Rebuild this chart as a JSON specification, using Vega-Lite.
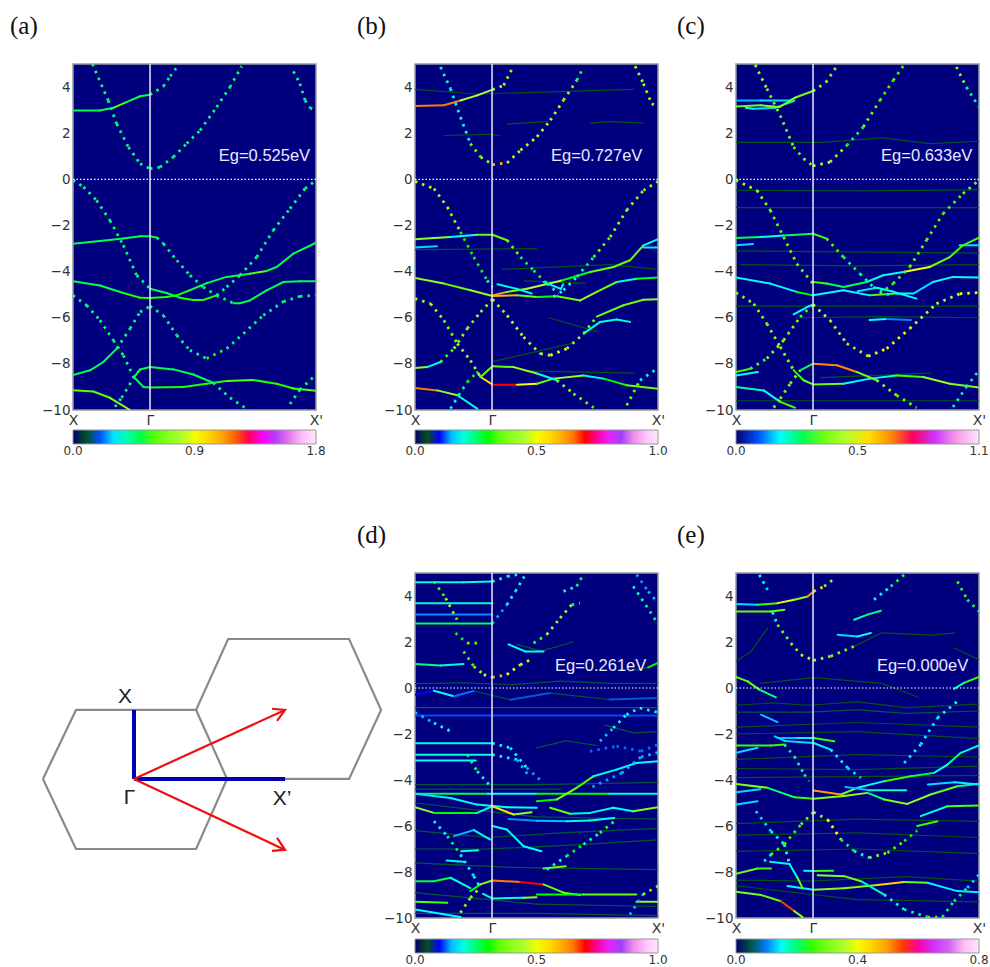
{"$schema":"https://vega.github.io/schema/vega-lite/v6.json","background":"white","padding":{"left":9,"top":13,"right":0,"bottom":0},"bounds":"flush","spacing":509,"resolve":{"scale":{"color":"independent"},"legend":{"color":"independent"}},
"config":{"view":{"fill":"#00007f","stroke":"#9a9a9a","strokeWidth":1.5},"title":{"font":"Liberation Serif","fontSize":25,"fontWeight":"normal","anchor":"start","color":"#111111","offset":24,"frame":"group"},
"axisX":{"domain":false,"ticks":false,"grid":false,"title":null,"labelFont":"DejaVu Sans","labelFontSize":14,"labelColor":"#333333","labelPadding":3,"labelFlush":false,"labelOverlap":false,"labelAngle":0,"labelExpr":"datum.value==0?'X':datum.value==1?\"X'\":'Γ'"},
"axisY":{"domain":false,"ticks":false,"grid":false,"title":null,"labelFont":"DejaVu Sans","labelFontSize":13.5,"labelColor":"#333333","labelPadding":3,"labelFlush":false,"labelOverlap":false,"tickCount":8},
"legend":{"orient":"none","legendX":0,"legendY":366,"direction":"horizontal","gradientLength":243,"gradientThickness":14,"gradientStrokeColor":"#999999","gradientStrokeWidth":1,"labelFont":"DejaVu Sans","labelFontSize":12,"labelColor":"#333333","labelOffset":3,"labelOverlap":false,"title":null,"format":".1f"}},
"datasets":{
"a":[
{"s":1,"c":0.5,"x":0,"y":2.98},{"s":1,"c":0.5,"x":0.111,"y":2.98},{"s":1,"c":0.6,"x":0.166,"y":3.1},{"s":1,"c":0.5,"x":0.22,"y":3.35},{"s":1,"c":0.5,"x":0.276,"y":3.6},{"s":1,"c":0.5,"x":0.317,"y":3.67},
{"s":2,"c":0.5,"x":0,"y":-2.79},{"s":2,"c":0.5,"x":0.111,"y":-2.67},{"s":2,"c":0.5,"x":0.207,"y":-2.56},{"s":2,"c":0.5,"x":0.276,"y":-2.47},{"s":2,"c":0.5,"x":0.317,"y":-2.47},{"s":2,"c":0.5,"x":0.345,"y":-2.52},
{"s":3,"c":0.5,"x":0.317,"y":-4.74},{"s":3,"c":0.5,"x":0.385,"y":-4.93},{"s":3,"c":0.55,"x":0.44,"y":-5.13},{"s":3,"c":0.55,"x":0.495,"y":-5.23},{"s":3,"c":0.55,"x":0.536,"y":-5.23},{"s":3,"c":0.5,"x":0.591,"y":-5.03},
{"s":4,"c":0.5,"x":0,"y":-4.42},{"s":4,"c":0.5,"x":0.111,"y":-4.6},{"s":4,"c":0.55,"x":0.207,"y":-4.93},{"s":4,"c":0.55,"x":0.276,"y":-5.13},{"s":4,"c":0.55,"x":0.317,"y":-5.14},{"s":4,"c":0.55,"x":0.385,"y":-5.1},{"s":4,"c":0.55,"x":0.427,"y":-5.03},{"s":4,"c":0.5,"x":0.481,"y":-4.81},{"s":4,"c":0.5,"x":0.55,"y":-4.5},{"s":4,"c":0.5,"x":0.632,"y":-4.23},{"s":4,"c":0.6,"x":0.728,"y":-4.09},{"s":4,"c":0.5,"x":0.797,"y":-3.97},{"s":4,"c":0.5,"x":0.838,"y":-3.8},{"s":4,"c":0.5,"x":0.907,"y":-3.22},{"s":4,"c":0.5,"x":1,"y":-2.75},
{"s":5,"c":0.5,"x":0.66,"y":-5.37},{"s":5,"c":0.5,"x":0.687,"y":-5.37},{"s":5,"c":0.5,"x":0.728,"y":-5.25},{"s":5,"c":0.5,"x":0.797,"y":-4.81},{"s":5,"c":0.5,"x":0.866,"y":-4.45},{"s":5,"c":0.5,"x":0.934,"y":-4.42},{"s":5,"c":0.5,"x":1,"y":-4.42},
{"s":6,"c":0.5,"x":0.25,"y":-8.57},{"s":6,"c":0.5,"x":0.29,"y":-9},{"s":6,"c":0.55,"x":0.317,"y":-9.02},{"s":6,"c":0.55,"x":0.454,"y":-9},{"s":6,"c":0.55,"x":0.55,"y":-8.86},{"s":6,"c":0.6,"x":0.632,"y":-8.74},{"s":6,"c":0.55,"x":0.742,"y":-8.7},{"s":6,"c":0.55,"x":0.838,"y":-8.86},{"s":6,"c":0.6,"x":0.907,"y":-9.07},{"s":6,"c":0.6,"x":1,"y":-9.17},
{"s":7,"c":0.5,"x":0,"y":-8.48},{"s":7,"c":0.5,"x":0.07,"y":-8.28},{"s":7,"c":0.5,"x":0.125,"y":-7.92},{"s":7,"c":0.5,"x":0.18,"y":-7.34},
{"s":8,"c":0.5,"x":0.25,"y":-8.6},{"s":8,"c":0.5,"x":0.276,"y":-8.24},{"s":8,"c":0.5,"x":0.317,"y":-8.14},{"s":8,"c":0.5,"x":0.413,"y":-8.24},{"s":8,"c":0.5,"x":0.495,"y":-8.46},{"s":8,"c":0.7,"x":0.577,"y":-8.82},
{"s":9,"c":0.6,"x":0,"y":-9.14},{"s":9,"c":0.6,"x":0.084,"y":-9.2},{"s":9,"c":0.7,"x":0.152,"y":-9.47},{"s":9,"c":0.6,"x":0.235,"y":-10}],
"ad":[
{"s":11,"c":0.45,"x":0.08,"y":5},{"s":11,"c":0.45,"x":0.145,"y":3.42},{"s":11,"c":0.45,"x":0.18,"y":2.4},{"s":11,"c":0.45,"x":0.228,"y":1.4},{"s":11,"c":0.45,"x":0.276,"y":0.68},{"s":11,"c":0.45,"x":0.317,"y":0.46},{"s":11,"c":0.45,"x":0.358,"y":0.53},{"s":11,"c":0.45,"x":0.413,"y":0.97},{"s":11,"c":0.45,"x":0.468,"y":1.55},{"s":11,"c":0.45,"x":0.523,"y":2.12},{"s":11,"c":0.45,"x":0.591,"y":3.13},{"s":11,"c":0.45,"x":0.646,"y":4},{"s":11,"c":0.45,"x":0.694,"y":4.9},
{"s":12,"c":0.45,"x":0.317,"y":3.67},{"s":12,"c":0.45,"x":0.372,"y":4.03},{"s":12,"c":0.45,"x":0.4,"y":4.47},{"s":12,"c":0.45,"x":0.424,"y":4.81},
{"s":13,"c":0.45,"x":0.907,"y":4.68},{"s":13,"c":0.45,"x":0.934,"y":4.15},{"s":13,"c":0.45,"x":0.955,"y":3.42},{"s":13,"c":0.45,"x":0.975,"y":3.1},{"s":13,"c":0.45,"x":1,"y":2.98},
{"s":14,"c":0.45,"x":0,"y":-0.04},{"s":14,"c":0.45,"x":0.043,"y":-0.33},{"s":14,"c":0.45,"x":0.097,"y":-0.91},{"s":14,"c":0.45,"x":0.152,"y":-1.78},{"s":14,"c":0.45,"x":0.207,"y":-2.86},{"s":14,"c":0.45,"x":0.262,"y":-4.16},{"s":14,"c":0.45,"x":0.317,"y":-4.74},
{"s":15,"c":0.45,"x":1,"y":-0.04},{"s":15,"c":0.45,"x":0.955,"y":-0.4},{"s":15,"c":0.45,"x":0.893,"y":-1.27},{"s":15,"c":0.45,"x":0.824,"y":-2.21},{"s":15,"c":0.45,"x":0.756,"y":-3.37},{"s":15,"c":0.45,"x":0.687,"y":-4.16},{"s":15,"c":0.45,"x":0.632,"y":-4.67},{"s":15,"c":0.45,"x":0.591,"y":-5.03},
{"s":16,"c":0.45,"x":0.345,"y":-2.52},{"s":16,"c":0.45,"x":0.372,"y":-2.79},{"s":16,"c":0.45,"x":0.427,"y":-3.51},{"s":16,"c":0.45,"x":0.481,"y":-4.16},{"s":16,"c":0.45,"x":0.536,"y":-4.67},{"s":16,"c":0.45,"x":0.591,"y":-5.03},{"s":16,"c":0.45,"x":0.66,"y":-5.37},
{"s":17,"c":0.45,"x":0,"y":-5.03},{"s":17,"c":0.45,"x":0.056,"y":-5.46},{"s":17,"c":0.45,"x":0.111,"y":-6.11},{"s":17,"c":0.45,"x":0.166,"y":-6.98},{"s":17,"c":0.45,"x":0.207,"y":-7.63},{"s":17,"c":0.45,"x":0.25,"y":-8.57},
{"s":18,"c":0.45,"x":0.18,"y":-7.34},{"s":18,"c":0.45,"x":0.235,"y":-6.47},{"s":18,"c":0.45,"x":0.276,"y":-5.75},{"s":18,"c":0.45,"x":0.317,"y":-5.5},{"s":18,"c":0.45,"x":0.372,"y":-5.9},{"s":18,"c":0.45,"x":0.427,"y":-6.76},{"s":18,"c":0.45,"x":0.481,"y":-7.41},{"s":18,"c":0.55,"x":0.55,"y":-7.77},{"s":18,"c":0.45,"x":0.632,"y":-7.34},{"s":18,"c":0.45,"x":0.701,"y":-6.69},{"s":18,"c":0.45,"x":0.783,"y":-5.9},{"s":18,"c":0.45,"x":0.866,"y":-5.3},{"s":18,"c":0.45,"x":0.934,"y":-5.07},{"s":18,"c":0.45,"x":1,"y":-5.03},
{"s":19,"c":0.45,"x":0.25,"y":-8.6},{"s":19,"c":0.45,"x":0.2,"y":-9.47},{"s":19,"c":0.45,"x":0.173,"y":-9.86},
{"s":20,"c":0.45,"x":0.577,"y":-8.82},{"s":20,"c":0.45,"x":0.646,"y":-9.47},{"s":20,"c":0.45,"x":0.722,"y":-10},
{"s":21,"c":0.45,"x":0.893,"y":-9.74},{"s":21,"c":0.45,"x":0.934,"y":-9.12},{"s":21,"c":0.45,"x":1,"y":-8.47}],
"b":[
{"s":1,"c":0.05,"x":0.721,"y":2.44},{"s":1,"c":0.05,"x":0.8,"y":2.5},{"s":1,"c":0.05,"x":0.94,"y":2.44},
{"s":2,"c":0.05,"x":0.12,"y":1.9},{"s":2,"c":0.05,"x":0.3,"y":1.95},{"s":2,"c":0.05,"x":0.35,"y":1.9},
{"s":3,"c":0.05,"x":0.38,"y":2.4},{"s":3,"c":0.05,"x":0.55,"y":2.5},
{"s":4,"c":0.05,"x":0,"y":-3.05},{"s":4,"c":0.05,"x":0.5,"y":-3},
{"s":5,"c":0.05,"x":0.36,"y":-3.9},{"s":5,"c":0.05,"x":0.8,"y":-3.7},{"s":5,"c":0.05,"x":1,"y":-3.9},
{"s":6,"c":0.05,"x":0.45,"y":-4.4},{"s":6,"c":0.05,"x":0.7,"y":-4.5},
{"s":7,"c":0.05,"x":0.55,"y":-6},{"s":7,"c":0.05,"x":0.75,"y":-6.6},
{"s":8,"c":0.05,"x":0.32,"y":-7.9},{"s":8,"c":0.05,"x":0.65,"y":-7.1},
{"s":9,"c":0.05,"x":0.45,"y":-8.3},{"s":9,"c":0.05,"x":0.9,"y":-8.4},
{"s":60,"c":0.05,"x":0,"y":3.9},{"s":60,"c":0.05,"x":0.25,"y":3.7},{"s":60,"c":0.05,"x":0.9,"y":3.9},
{"s":10,"c":0.16,"x":0,"y":-2.96},{"s":10,"c":0.16,"x":0.09,"y":-2.9},
{"s":11,"c":0.17,"x":0.94,"y":-2.96},{"s":11,"c":0.17,"x":1,"y":-2.96},
{"s":12,"c":0.65,"x":0,"y":3.18},{"s":12,"c":0.65,"x":0.119,"y":3.21},{"s":12,"c":0.45,"x":0.187,"y":3.42},{"s":12,"c":0.45,"x":0.256,"y":3.64},{"s":12,"c":0.45,"x":0.319,"y":3.89},
{"s":13,"c":0.4,"x":0,"y":-2.6},{"s":13,"c":0.18,"x":0.146,"y":-2.5},{"s":13,"c":0.35,"x":0.256,"y":-2.4},{"s":13,"c":0.35,"x":0.319,"y":-2.4},{"s":13,"c":0.35,"x":0.379,"y":-2.64},
{"s":14,"c":0.3,"x":0.6,"y":-4.4},{"s":14,"c":0.35,"x":0.721,"y":-4.02},{"s":14,"c":0.35,"x":0.817,"y":-3.8},{"s":14,"c":0.35,"x":0.885,"y":-3.51},{"s":14,"c":0.2,"x":0.94,"y":-2.86},{"s":14,"c":0.2,"x":1,"y":-2.59},
{"s":15,"c":0.4,"x":0,"y":-4.28},{"s":15,"c":0.35,"x":0.119,"y":-4.52},{"s":15,"c":0.4,"x":0.228,"y":-4.81},{"s":15,"c":0.6,"x":0.319,"y":-5.06},{"s":15,"c":0.35,"x":0.42,"y":-5.03},{"s":15,"c":0.3,"x":0.502,"y":-5.1},{"s":15,"c":0.35,"x":0.584,"y":-5.07},{"s":15,"c":0.4,"x":0.68,"y":-5.25},{"s":15,"c":0.35,"x":0.748,"y":-4.88},{"s":15,"c":0.2,"x":0.83,"y":-4.45},{"s":15,"c":0.3,"x":0.912,"y":-4.31},{"s":15,"c":0.4,"x":1,"y":-4.26},
{"s":16,"c":0.6,"x":0.319,"y":-5.03},{"s":16,"c":0.38,"x":0.379,"y":-4.88},{"s":16,"c":0.45,"x":0.461,"y":-4.74},{"s":16,"c":0.35,"x":0.6,"y":-4.4},
{"s":17,"c":0.2,"x":0.34,"y":-4.55},{"s":17,"c":0.2,"x":0.42,"y":-4.75},{"s":17,"c":0.2,"x":0.48,"y":-4.95},
{"s":18,"c":0.18,"x":0.53,"y":-4.45},{"s":18,"c":0.17,"x":0.61,"y":-4.55},{"s":18,"c":0.2,"x":0.6,"y":-4.75},
{"s":19,"c":0.55,"x":0.27,"y":-8.57},{"s":19,"c":0.7,"x":0.319,"y":-8.9},{"s":19,"c":0.5,"x":0.42,"y":-8.9},{"s":19,"c":0.35,"x":0.502,"y":-8.86},{"s":19,"c":0.42,"x":0.57,"y":-8.64},{"s":19,"c":0.2,"x":0.694,"y":-8.5},{"s":19,"c":0.3,"x":0.776,"y":-8.64},{"s":19,"c":0.35,"x":0.871,"y":-8.93},{"s":19,"c":0.65,"x":1,"y":-9.08},
{"s":20,"c":0.35,"x":0.27,"y":-8.57},{"s":20,"c":0.35,"x":0.256,"y":-8.35},{"s":20,"c":0.35,"x":0.319,"y":-8.1},{"s":20,"c":0.42,"x":0.406,"y":-8.14},{"s":20,"c":0.2,"x":0.502,"y":-8.42},{"s":20,"c":0.4,"x":0.584,"y":-8.71},
{"s":21,"c":0.65,"x":0,"y":-9.05},{"s":21,"c":0.4,"x":0.092,"y":-9.15},{"s":21,"c":0.2,"x":0.174,"y":-9.36},{"s":21,"c":0.3,"x":0.256,"y":-9.94},
{"s":22,"c":0.2,"x":0.694,"y":-6.69},{"s":22,"c":0.2,"x":0.762,"y":-6.18},{"s":22,"c":0.2,"x":0.83,"y":-6.08},{"s":22,"c":0.05,"x":0.885,"y":-6.18},
{"s":23,"c":0.4,"x":0,"y":-8.18},{"s":23,"c":0.2,"x":0.05,"y":-8.14},{"s":23,"c":0.32,"x":0.105,"y":-7.92},
{"s":24,"c":0.35,"x":0.748,"y":-5.95},{"s":24,"c":0.35,"x":0.858,"y":-5.46},{"s":24,"c":0.4,"x":0.94,"y":-5.22},{"s":24,"c":0.6,"x":1,"y":-5.2}],
"bd":[
{"s":30,"c":0.2,"x":0.105,"y":4.87},{"s":30,"c":0.2,"x":0.146,"y":3.93},{"s":30,"c":0.2,"x":0.187,"y":2.7},{"s":30,"c":0.35,"x":0.228,"y":1.55},{"s":30,"c":0.4,"x":0.27,"y":0.97},{"s":30,"c":0.6,"x":0.319,"y":0.64},{"s":30,"c":0.45,"x":0.379,"y":0.71},{"s":30,"c":0.45,"x":0.434,"y":1.26},{"s":30,"c":0.45,"x":0.502,"y":1.84},{"s":30,"c":0.45,"x":0.557,"y":2.56},{"s":30,"c":0.4,"x":0.611,"y":3.43},{"s":30,"c":0.25,"x":0.666,"y":4.29},{"s":30,"c":0.4,"x":0.694,"y":4.87},
{"s":31,"c":0.4,"x":0.319,"y":3.89},{"s":31,"c":0.4,"x":0.365,"y":4.07},{"s":31,"c":0.2,"x":0.406,"y":4.94},
{"s":32,"c":0.4,"x":0.906,"y":4.91},{"s":32,"c":0.4,"x":0.94,"y":4.15},{"s":32,"c":0.4,"x":0.974,"y":3.28},{"s":32,"c":0.4,"x":1,"y":3.14},
{"s":33,"c":0.45,"x":0,"y":-0.09},{"s":33,"c":0.4,"x":0.078,"y":-0.4},{"s":33,"c":0.4,"x":0.133,"y":-1.2},{"s":33,"c":0.3,"x":0.187,"y":-2.28},{"s":33,"c":0.3,"x":0.242,"y":-3.37},{"s":33,"c":0.2,"x":0.297,"y":-4.38},{"s":33,"c":0.2,"x":0.319,"y":-4.67},
{"s":34,"c":0.45,"x":1,"y":-0.09},{"s":34,"c":0.4,"x":0.94,"y":-0.48},{"s":34,"c":0.4,"x":0.871,"y":-1.34},{"s":34,"c":0.4,"x":0.803,"y":-2.5},{"s":34,"c":0.35,"x":0.735,"y":-3.37},{"s":34,"c":0.25,"x":0.666,"y":-4.23},{"s":34,"c":0.18,"x":0.611,"y":-4.81},{"s":34,"c":0.18,"x":0.57,"y":-5.1},
{"s":35,"c":0.35,"x":0.379,"y":-2.64},{"s":35,"c":0.28,"x":0.434,"y":-3.37},{"s":35,"c":0.28,"x":0.488,"y":-3.95},{"s":35,"c":0.22,"x":0.543,"y":-4.52},{"s":35,"c":0.2,"x":0.591,"y":-4.96},
{"s":36,"c":0.4,"x":0,"y":-5.17},{"s":36,"c":0.4,"x":0.064,"y":-5.39},{"s":36,"c":0.35,"x":0.119,"y":-6.11},{"s":36,"c":0.4,"x":0.174,"y":-7.12},{"s":36,"c":0.4,"x":0.228,"y":-7.85},{"s":36,"c":0.3,"x":0.27,"y":-8.57},
{"s":37,"c":0.32,"x":0.105,"y":-7.92},{"s":37,"c":0.4,"x":0.16,"y":-7.34},{"s":37,"c":0.4,"x":0.215,"y":-6.47},{"s":37,"c":0.4,"x":0.27,"y":-5.75},{"s":37,"c":0.4,"x":0.319,"y":-5.2},{"s":37,"c":0.45,"x":0.379,"y":-5.9},{"s":37,"c":0.42,"x":0.447,"y":-6.84},{"s":37,"c":0.45,"x":0.516,"y":-7.56},{"s":37,"c":0.5,"x":0.557,"y":-7.63},{"s":37,"c":0.4,"x":0.625,"y":-7.34},{"s":37,"c":0.35,"x":0.694,"y":-6.69},{"s":37,"c":0.35,"x":0.748,"y":-5.95},
{"s":38,"c":0.3,"x":0.256,"y":-8.35},{"s":38,"c":0.3,"x":0.215,"y":-8.79},{"s":38,"c":0.25,"x":0.18,"y":-9.36},{"s":38,"c":0.2,"x":0.146,"y":-9.94},
{"s":39,"c":0.4,"x":0.584,"y":-8.71},{"s":39,"c":0.35,"x":0.652,"y":-9.29},{"s":39,"c":0.25,"x":0.735,"y":-9.9},
{"s":40,"c":0.35,"x":0.871,"y":-9.8},{"s":40,"c":0.2,"x":0.926,"y":-8.71},{"s":40,"c":0.35,"x":1,"y":-8.18}],
"c":[
{"s":1,"c":0.06,"x":0,"y":-0.48},{"s":1,"c":0.06,"x":0.5,"y":-0.5},{"s":1,"c":0.06,"x":1,"y":-0.46},
{"s":2,"c":0.06,"x":0,"y":-1.23},{"s":2,"c":0.06,"x":0.5,"y":-1.23},{"s":2,"c":0.06,"x":1,"y":-1.23},
{"s":3,"c":0.06,"x":0,"y":1.6},{"s":3,"c":0.06,"x":0.35,"y":1.6},{"s":3,"c":0.06,"x":0.6,"y":1.8},{"s":3,"c":0.06,"x":0.8,"y":1.55},{"s":3,"c":0.06,"x":1,"y":1.65},
{"s":4,"c":0.06,"x":0.02,"y":-3.7},{"s":4,"c":0.06,"x":0.5,"y":-3.75},{"s":4,"c":0.06,"x":1,"y":-3.7},
{"s":5,"c":0.06,"x":0,"y":-5.5},{"s":5,"c":0.06,"x":1,"y":-5.5},
{"s":6,"c":0.06,"x":0.25,"y":-6},{"s":6,"c":0.06,"x":0.6,"y":-5.95},{"s":6,"c":0.06,"x":1,"y":-6},
{"s":7,"c":0.06,"x":0,"y":-3.1},{"s":7,"c":0.06,"x":1,"y":-3.2},
{"s":8,"c":0.06,"x":0,"y":-9.6},{"s":8,"c":0.06,"x":1,"y":-9.6},
{"s":9,"c":0.06,"x":0.35,"y":-8.6},{"s":9,"c":0.06,"x":0.8,"y":-8.4},
{"s":10,"c":0.16,"x":0,"y":3.42},{"s":10,"c":0.18,"x":0.1,"y":3.42},{"s":10,"c":0.35,"x":0.223,"y":3.42},{"s":10,"c":0.4,"x":0.25,"y":3.57},
{"s":11,"c":0.2,"x":0.04,"y":3.1},{"s":11,"c":0.18,"x":0.073,"y":3.06},{"s":11,"c":0.25,"x":0.16,"y":3.1},{"s":11,"c":0.25,"x":0.24,"y":3.4},
{"s":12,"c":0.4,"x":0,"y":3.16},{"s":12,"c":0.42,"x":0.1,"y":3.21},{"s":12,"c":0.4,"x":0.18,"y":3.14},{"s":12,"c":0.4,"x":0.25,"y":3.57},{"s":12,"c":0.45,"x":0.317,"y":3.83},
{"s":13,"c":0.18,"x":0,"y":-2.86},{"s":13,"c":0.18,"x":0.07,"y":-2.8},
{"s":14,"c":0.18,"x":0.92,"y":-2.86},{"s":14,"c":0.18,"x":1,"y":-2.86},
{"s":15,"c":0.3,"x":0,"y":-2.54},{"s":15,"c":0.2,"x":0.1,"y":-2.5},{"s":15,"c":0.3,"x":0.196,"y":-2.43},{"s":15,"c":0.35,"x":0.317,"y":-2.36},{"s":15,"c":0.35,"x":0.373,"y":-2.57},
{"s":16,"c":0.25,"x":1,"y":-2.53},{"s":16,"c":0.35,"x":0.934,"y":-2.86},{"s":16,"c":0.35,"x":0.88,"y":-3.37},{"s":16,"c":0.38,"x":0.797,"y":-3.8},{"s":16,"c":0.55,"x":0.688,"y":-4.02},{"s":16,"c":0.2,"x":0.606,"y":-4.16},{"s":16,"c":0.22,"x":0.538,"y":-4.45},{"s":16,"c":0.3,"x":0.442,"y":-4.67},{"s":16,"c":0.3,"x":0.373,"y":-4.52},{"s":16,"c":0.35,"x":0.317,"y":-4.45},
{"s":17,"c":0.2,"x":0,"y":-4.26},{"s":17,"c":0.2,"x":0.141,"y":-4.52},{"s":17,"c":0.33,"x":0.25,"y":-4.88},{"s":17,"c":0.2,"x":0.317,"y":-5.03},{"s":17,"c":0.2,"x":0.442,"y":-4.81},{"s":17,"c":0.35,"x":0.551,"y":-5.03},{"s":17,"c":0.2,"x":0.661,"y":-4.95},{"s":17,"c":0.18,"x":0.73,"y":-4.95},{"s":17,"c":0.2,"x":0.811,"y":-4.45},{"s":17,"c":0.2,"x":0.893,"y":-4.23},{"s":17,"c":0.3,"x":1,"y":-4.26},
{"s":18,"c":0.18,"x":0.5,"y":-4.85},{"s":18,"c":0.2,"x":0.58,"y":-4.7},{"s":18,"c":0.2,"x":0.64,"y":-4.85},{"s":18,"c":0.2,"x":0.743,"y":-5.17},
{"s":19,"c":0.2,"x":0.237,"y":-5.85},{"s":19,"c":0.2,"x":0.3,"y":-5.5},{"s":19,"c":0.4,"x":0.317,"y":-5.43},
{"s":20,"c":0.35,"x":0.237,"y":-8.27},{"s":20,"c":0.4,"x":0.278,"y":-8.71},{"s":20,"c":0.38,"x":0.317,"y":-8.89},{"s":20,"c":0.2,"x":0.442,"y":-8.86},{"s":20,"c":0.22,"x":0.551,"y":-8.64},{"s":20,"c":0.35,"x":0.661,"y":-8.5},{"s":20,"c":0.45,"x":0.77,"y":-8.57},{"s":20,"c":0.42,"x":0.88,"y":-8.86},{"s":20,"c":0.42,"x":1,"y":-9.03},
{"s":21,"c":0.2,"x":0.55,"y":-6.1},{"s":21,"c":0.14,"x":0.62,"y":-6.05},{"s":21,"c":0.08,"x":0.72,"y":-6.1},
{"s":22,"c":0.3,"x":0.264,"y":-8.28},{"s":22,"c":0.7,"x":0.317,"y":-7.99},{"s":22,"c":0.7,"x":0.415,"y":-8.06},{"s":22,"c":0.4,"x":0.497,"y":-8.35},{"s":22,"c":0.42,"x":0.579,"y":-8.71},
{"s":23,"c":0.25,"x":0,"y":-9},{"s":23,"c":0.2,"x":0.114,"y":-9.15},{"s":23,"c":0.35,"x":0.182,"y":-9.65},{"s":23,"c":0.35,"x":0.243,"y":-9.9},
{"s":24,"c":0.2,"x":0,"y":-8.5},{"s":24,"c":0.17,"x":0.09,"y":-8.35},
{"s":25,"c":0.35,"x":0,"y":-8.35},{"s":25,"c":0.35,"x":0.059,"y":-8.21}],
"cd":[
{"s":30,"c":0.45,"x":0.079,"y":4.96},{"s":30,"c":0.4,"x":0.127,"y":3.93},{"s":30,"c":0.4,"x":0.182,"y":2.77},{"s":30,"c":0.35,"x":0.237,"y":1.4},{"s":30,"c":0.4,"x":0.278,"y":0.9},{"s":30,"c":0.5,"x":0.317,"y":0.58},{"s":30,"c":0.45,"x":0.387,"y":0.75},{"s":30,"c":0.3,"x":0.456,"y":1.47},{"s":30,"c":0.4,"x":0.524,"y":2.27},{"s":30,"c":0.35,"x":0.592,"y":3.42},{"s":30,"c":0.35,"x":0.647,"y":4.29},{"s":30,"c":0.42,"x":0.688,"y":4.91},
{"s":31,"c":0.42,"x":0.317,"y":3.83},{"s":31,"c":0.42,"x":0.37,"y":4.2},{"s":31,"c":0.42,"x":0.415,"y":4.91},
{"s":32,"c":0.4,"x":0.907,"y":4.87},{"s":32,"c":0.25,"x":0.948,"y":4},{"s":32,"c":0.4,"x":1,"y":3.14},
{"s":33,"c":0.45,"x":0,"y":-0.04},{"s":33,"c":0.42,"x":0.086,"y":-0.48},{"s":33,"c":0.38,"x":0.141,"y":-1.34},{"s":33,"c":0.38,"x":0.196,"y":-2.5},{"s":33,"c":0.38,"x":0.25,"y":-3.66},{"s":33,"c":0.38,"x":0.317,"y":-4.52},
{"s":34,"c":0.42,"x":1,"y":-0.04},{"s":34,"c":0.38,"x":0.934,"y":-0.62},{"s":34,"c":0.35,"x":0.852,"y":-1.49},{"s":34,"c":0.38,"x":0.784,"y":-2.64},{"s":34,"c":0.38,"x":0.715,"y":-3.8},{"s":34,"c":0.35,"x":0.647,"y":-4.52},{"s":34,"c":0.35,"x":0.592,"y":-4.96},
{"s":35,"c":0.35,"x":0.373,"y":-2.57},{"s":35,"c":0.3,"x":0.442,"y":-3.37},{"s":35,"c":0.25,"x":0.51,"y":-4.09},{"s":35,"c":0.25,"x":0.565,"y":-4.67},{"s":35,"c":0.3,"x":0.633,"y":-5.03},
{"s":36,"c":0.42,"x":0,"y":-4.91},{"s":36,"c":0.42,"x":0.073,"y":-5.39},{"s":36,"c":0.42,"x":0.127,"y":-6.26},{"s":36,"c":0.42,"x":0.182,"y":-7.26},{"s":36,"c":0.42,"x":0.237,"y":-8.27},
{"s":37,"c":0.35,"x":0.059,"y":-8.21},{"s":37,"c":0.42,"x":0.127,"y":-7.77},{"s":37,"c":0.42,"x":0.196,"y":-6.98},{"s":37,"c":0.35,"x":0.264,"y":-5.97},{"s":37,"c":0.5,"x":0.317,"y":-5.43},{"s":37,"c":0.45,"x":0.387,"y":-6.11},{"s":37,"c":0.45,"x":0.456,"y":-7.12},{"s":37,"c":0.55,"x":0.544,"y":-7.67},{"s":37,"c":0.55,"x":0.62,"y":-7.34},{"s":37,"c":0.5,"x":0.715,"y":-6.47},{"s":37,"c":0.5,"x":0.825,"y":-5.39},{"s":37,"c":0.55,"x":0.921,"y":-4.96},{"s":37,"c":0.55,"x":1,"y":-4.91},
{"s":38,"c":0.3,"x":0.264,"y":-8.28},{"s":38,"c":0.42,"x":0.223,"y":-8.86},{"s":38,"c":0.4,"x":0.182,"y":-9.51},{"s":38,"c":0.4,"x":0.155,"y":-9.9},
{"s":39,"c":0.42,"x":0.579,"y":-8.71},{"s":39,"c":0.38,"x":0.661,"y":-9.36},{"s":39,"c":0.38,"x":0.743,"y":-9.9},
{"s":40,"c":0.25,"x":0.893,"y":-9.87},{"s":40,"c":0.25,"x":0.948,"y":-9},{"s":40,"c":0.2,"x":1,"y":-8.28}],
"d":[
{"s":1,"c":0.06,"x":0,"y":0.19},{"s":1,"c":0.06,"x":0.2,"y":0.22},{"s":1,"c":0.06,"x":0.4,"y":0.15},{"s":1,"c":0.06,"x":0.6,"y":0.3},{"s":1,"c":0.06,"x":0.8,"y":0.2},{"s":1,"c":0.06,"x":1,"y":0.2},
{"s":2,"c":0.07,"x":0,"y":-0.85},{"s":2,"c":0.07,"x":1,"y":-0.85},
{"s":3,"c":0.11,"x":0,"y":-1.2},{"s":3,"c":0.11,"x":1,"y":-1.2},
{"s":4,"c":0.06,"x":0,"y":-4.2},{"s":4,"c":0.06,"x":0.5,"y":-4.2},{"s":4,"c":0.06,"x":1,"y":-4.1},
{"s":5,"c":0.06,"x":0,"y":-4.4},{"s":5,"c":0.06,"x":0.6,"y":-4.4},
{"s":6,"c":0.06,"x":0,"y":-5},{"s":6,"c":0.06,"x":0.5,"y":-5.6},{"s":6,"c":0.06,"x":1,"y":-5.7},
{"s":7,"c":0.06,"x":0,"y":-6.2},{"s":7,"c":0.06,"x":0.3,"y":-6.5},{"s":7,"c":0.06,"x":0.6,"y":-6.3},{"s":7,"c":0.06,"x":1,"y":-6.1},
{"s":8,"c":0.06,"x":0,"y":-7},{"s":8,"c":0.06,"x":0.3,"y":-7},{"s":8,"c":0.06,"x":0.7,"y":-6.8},{"s":8,"c":0.06,"x":1,"y":-6.6},
{"s":9,"c":0.06,"x":0,"y":-7.6},{"s":9,"c":0.06,"x":0.4,"y":-7.8},{"s":9,"c":0.06,"x":1,"y":-7.9},
{"s":10,"c":0.06,"x":0,"y":-8.9},{"s":10,"c":0.06,"x":0.5,"y":-9.4},{"s":10,"c":0.06,"x":1,"y":-9.5},
{"s":11,"c":0.06,"x":0,"y":-9.8},{"s":11,"c":0.06,"x":0.5,"y":-9.8},{"s":11,"c":0.06,"x":1,"y":-9.9},
{"s":12,"c":0.06,"x":0.5,"y":-2.6},{"s":12,"c":0.06,"x":0.62,"y":-2.3},{"s":12,"c":0.06,"x":0.75,"y":-2.5},
{"s":13,"c":0.06,"x":0.42,"y":1.9},{"s":13,"c":0.06,"x":0.52,"y":1.6},{"s":13,"c":0.06,"x":0.65,"y":2.0},
{"s":14,"c":0.06,"x":0.78,"y":-1.6},{"s":14,"c":0.06,"x":0.9,"y":-1.95},{"s":14,"c":0.06,"x":1,"y":-1.9},
{"s":15,"c":0.1,"x":0,"y":-0.29},{"s":15,"c":0.18,"x":0.078,"y":-0.12},{"s":15,"c":0.12,"x":0.16,"y":-0.36},{"s":15,"c":0.06,"x":0.242,"y":-0.13},{"s":15,"c":0.08,"x":0.392,"y":-0.51},{"s":15,"c":0.06,"x":0.556,"y":-0.22},{"s":15,"c":0.08,"x":0.8,"y":-0.5},{"s":15,"c":0.13,"x":1,"y":-0.43},
{"s":16,"c":0.2,"x":0,"y":4.6},{"s":16,"c":0.2,"x":0.2,"y":4.6},{"s":16,"c":0.22,"x":0.318,"y":4.63},
{"s":17,"c":0.21,"x":0,"y":3.68},{"s":17,"c":0.21,"x":0.318,"y":3.68},
{"s":18,"c":0.13,"x":0,"y":3.2},{"s":18,"c":0.13,"x":0.318,"y":3.2},
{"s":19,"c":0.27,"x":0,"y":2.8},{"s":19,"c":0.27,"x":0.318,"y":2.8},
{"s":20,"c":0.24,"x":0,"y":1.04},{"s":20,"c":0.2,"x":0.105,"y":0.98},{"s":20,"c":0.06,"x":0.2,"y":1.04},
{"s":21,"c":0.06,"x":0.88,"y":0.72},{"s":21,"c":0.3,"x":0.96,"y":0.9},{"s":21,"c":0.3,"x":1,"y":1.09},
{"s":22,"c":0.18,"x":0.385,"y":1.9},{"s":22,"c":0.2,"x":0.453,"y":1.59},{"s":22,"c":0.3,"x":0.529,"y":1.59},
{"s":23,"c":0.2,"x":0,"y":-2.4},{"s":23,"c":0.2,"x":0.318,"y":-2.4},
{"s":24,"c":0.2,"x":0,"y":-2.9},{"s":24,"c":0.21,"x":0.318,"y":-2.9},
{"s":25,"c":0.18,"x":0,"y":-3.15},{"s":25,"c":0.18,"x":0.25,"y":-3.15},
{"s":26,"c":0.28,"x":0,"y":-4.6},{"s":26,"c":0.18,"x":0.3,"y":-4.6},{"s":26,"c":0.3,"x":0.5,"y":-4.6},{"s":26,"c":0.2,"x":0.8,"y":-4.6},{"s":26,"c":0.18,"x":1,"y":-4.6},
{"s":27,"c":0.17,"x":0,"y":-4.6},{"s":27,"c":0.18,"x":0.146,"y":-4.78},{"s":27,"c":0.2,"x":0.256,"y":-5.07},{"s":27,"c":0.18,"x":0.378,"y":-5.18},{"s":27,"c":0.14,"x":0.501,"y":-5.21},
{"s":28,"c":0.4,"x":0,"y":-5.18},{"s":28,"c":0.3,"x":0.078,"y":-5.43},{"s":28,"c":0.2,"x":0.256,"y":-5.43},{"s":28,"c":0.55,"x":0.318,"y":-5.14},{"s":28,"c":0.4,"x":0.406,"y":-5.5},{"s":28,"c":0.14,"x":0.48,"y":-5.4},
{"s":29,"c":0.3,"x":0.501,"y":-4.92},{"s":29,"c":0.38,"x":0.583,"y":-4.85},{"s":29,"c":0.32,"x":0.665,"y":-4.34},{"s":29,"c":0.2,"x":0.734,"y":-3.84},{"s":29,"c":0.18,"x":0.829,"y":-3.55},{"s":29,"c":0.18,"x":0.911,"y":-3.26},{"s":29,"c":0.18,"x":1,"y":-3.19},
{"s":30,"c":0.35,"x":0.556,"y":-5.21},{"s":30,"c":0.22,"x":0.638,"y":-5.47},{"s":30,"c":0.2,"x":0.72,"y":-5.43},{"s":30,"c":0.18,"x":0.816,"y":-5.21},{"s":30,"c":0.38,"x":0.898,"y":-5.36},{"s":30,"c":0.42,"x":1,"y":-5.18},
{"s":31,"c":0.18,"x":0.318,"y":-6},{"s":31,"c":0.2,"x":0.378,"y":-6.15},{"s":31,"c":0.18,"x":0.447,"y":-6.88},{"s":31,"c":0.38,"x":0.52,"y":-7.1},
{"s":32,"c":0.13,"x":0.385,"y":-5.7},{"s":32,"c":0.15,"x":0.5,"y":-5.77},{"s":32,"c":0.2,"x":0.624,"y":-5.79},{"s":32,"c":0.18,"x":0.72,"y":-5.76},{"s":32,"c":0.13,"x":0.82,"y":-5.65},
{"s":33,"c":0.15,"x":0.16,"y":-6.44},{"s":33,"c":0.2,"x":0.242,"y":-6.18},{"s":33,"c":0.13,"x":0.31,"y":-6.59},
{"s":34,"c":0.2,"x":0.19,"y":-7.1},{"s":34,"c":0.16,"x":0.26,"y":-7.05},
{"s":35,"c":0.35,"x":0.529,"y":-7.85},{"s":35,"c":0.6,"x":0.62,"y":-7.75},
{"s":36,"c":0.3,"x":0.228,"y":-8.83},{"s":36,"c":0.38,"x":0.269,"y":-8.54},{"s":36,"c":0.65,"x":0.318,"y":-8.37},{"s":36,"c":0.7,"x":0.433,"y":-8.43},{"s":36,"c":0.35,"x":0.529,"y":-8.54},{"s":36,"c":0.38,"x":0.611,"y":-8.9},{"s":36,"c":0.2,"x":0.68,"y":-9},
{"s":37,"c":0.2,"x":0.28,"y":-8.95},{"s":37,"c":0.2,"x":0.318,"y":-9.15},{"s":37,"c":0.4,"x":0.447,"y":-9.12},{"s":37,"c":0.2,"x":0.5,"y":-9.1},
{"s":38,"c":0.33,"x":0,"y":-9.29},{"s":38,"c":0.2,"x":0.133,"y":-9.34},
{"s":39,"c":0.28,"x":0,"y":-8.4},{"s":39,"c":0.28,"x":0.078,"y":-8.4},{"s":39,"c":0.2,"x":0.146,"y":-8.25},{"s":39,"c":0.2,"x":0.228,"y":-8.7},
{"s":40,"c":0.3,"x":0.501,"y":-8.98},{"s":40,"c":0.35,"x":0.693,"y":-8.98},{"s":40,"c":0.25,"x":0.911,"y":-8.98},
{"s":41,"c":0.4,"x":0.911,"y":-9.29},{"s":41,"c":0.42,"x":1,"y":-9.29},
{"s":42,"c":0.18,"x":0,"y":-9.63},{"s":42,"c":0.18,"x":0.187,"y":-9.96},
{"s":43,"c":0.2,"x":0.13,"y":-7.5},{"s":43,"c":0.18,"x":0.2,"y":-7.55}],
"dd":[
{"s":50,"c":0.32,"x":0.078,"y":4.63},{"s":50,"c":0.38,"x":0.126,"y":3.91},{"s":50,"c":0.32,"x":0.173,"y":2.97},
{"s":51,"c":0.3,"x":0.167,"y":2.39},{"s":51,"c":0.35,"x":0.214,"y":1.95},{"s":51,"c":0.2,"x":0.26,"y":1.95},
{"s":52,"c":0.32,"x":0.2,"y":1.59},{"s":52,"c":0.4,"x":0.242,"y":0.94},{"s":52,"c":0.45,"x":0.283,"y":0.58},{"s":52,"c":0.6,"x":0.318,"y":0.46},{"s":52,"c":0.5,"x":0.378,"y":0.58},{"s":52,"c":0.45,"x":0.433,"y":1.01},{"s":52,"c":0.3,"x":0.488,"y":1.3},
{"s":53,"c":0.32,"x":0.488,"y":1.95},{"s":53,"c":0.4,"x":0.542,"y":2.32},{"s":53,"c":0.42,"x":0.597,"y":3.04},{"s":53,"c":0.25,"x":0.645,"y":3.62},{"s":53,"c":0.18,"x":0.679,"y":3.69},
{"s":54,"c":0.2,"x":0.611,"y":4.2},{"s":54,"c":0.25,"x":0.665,"y":4.42},{"s":54,"c":0.4,"x":0.686,"y":4.81},
{"s":55,"c":0.14,"x":0.318,"y":2.8},{"s":55,"c":0.18,"x":0.378,"y":3.62},{"s":55,"c":0.2,"x":0.413,"y":4.2},{"s":55,"c":0.18,"x":0.45,"y":4.85},
{"s":56,"c":0.2,"x":0.318,"y":4.63},{"s":56,"c":0.2,"x":0.38,"y":4.85},{"s":56,"c":0.2,"x":0.42,"y":4.93},
{"s":57,"c":0.22,"x":0.898,"y":4.42},{"s":57,"c":0.25,"x":0.95,"y":3.6},{"s":57,"c":0.25,"x":0.993,"y":2.9},
{"s":58,"c":0.14,"x":0.912,"y":4.93},{"s":58,"c":0.15,"x":0.96,"y":4.2},{"s":58,"c":0.15,"x":1,"y":3.7},
{"s":59,"c":0.15,"x":0,"y":-1.06},{"s":59,"c":0.18,"x":0.078,"y":-1.52},{"s":59,"c":0.2,"x":0.16,"y":-1.95},
{"s":60,"c":0.18,"x":1,"y":-1.06},{"s":60,"c":0.2,"x":0.925,"y":-0.87},{"s":60,"c":0.2,"x":0.87,"y":-1.16},{"s":60,"c":0.2,"x":0.816,"y":-1.74},{"s":60,"c":0.15,"x":0.761,"y":-2.32},
{"s":61,"c":0.12,"x":0.72,"y":-2.75},{"s":61,"c":0.12,"x":0.829,"y":-2.53},{"s":61,"c":0.12,"x":0.93,"y":-2.75},{"s":61,"c":0.12,"x":1,"y":-2.46},
{"s":62,"c":0.18,"x":0.318,"y":-2.4},{"s":62,"c":0.18,"x":0.392,"y":-2.6},{"s":62,"c":0.14,"x":0.46,"y":-3.47},{"s":62,"c":0.12,"x":0.529,"y":-4.13},
{"s":63,"c":0.18,"x":0.318,"y":-2.9},{"s":63,"c":0.15,"x":0.42,"y":-3.11},{"s":63,"c":0.13,"x":0.474,"y":-3.91},
{"s":64,"c":0.25,"x":0.215,"y":-2.9},{"s":64,"c":0.2,"x":0.256,"y":-3.62},{"s":64,"c":0.15,"x":0.31,"y":-4.27},
{"s":65,"c":0.14,"x":0.73,"y":-4.3},{"s":65,"c":0.15,"x":0.85,"y":-3.7},{"s":65,"c":0.15,"x":0.93,"y":-3},{"s":65,"c":0.15,"x":1,"y":-2.8},
{"s":66,"c":0.2,"x":0.078,"y":-5.79},{"s":66,"c":0.28,"x":0.133,"y":-6.44},{"s":66,"c":0.2,"x":0.187,"y":-7.24},{"s":66,"c":0.18,"x":0.242,"y":-8.18},{"s":66,"c":0.2,"x":0.269,"y":-8.69},
{"s":67,"c":0.2,"x":0.829,"y":-5.72},{"s":67,"c":0.32,"x":0.761,"y":-6.3},{"s":67,"c":0.22,"x":0.693,"y":-6.8},{"s":67,"c":0.3,"x":0.624,"y":-7.31},{"s":67,"c":0.2,"x":0.542,"y":-7.89},
{"s":68,"c":0.15,"x":0.884,"y":-9.85},{"s":68,"c":0.38,"x":0.938,"y":-8.98},{"s":68,"c":0.17,"x":1,"y":-8.61},
{"s":69,"c":0.38,"x":0.187,"y":-9.77},{"s":69,"c":0.4,"x":0.228,"y":-9.12},{"s":69,"c":0.3,"x":0.262,"y":-8.75}],
"e":[
{"s":1,"c":0.04,"x":0,"y":-0.75},{"s":1,"c":0.04,"x":0.15,"y":-0.65},{"s":1,"c":0.04,"x":0.3,"y":-0.75},{"s":1,"c":0.04,"x":0.5,"y":-0.6},{"s":1,"c":0.04,"x":0.7,"y":-0.85},{"s":1,"c":0.04,"x":1,"y":-0.7},
{"s":2,"c":0.05,"x":0,"y":-1.05},{"s":2,"c":0.05,"x":0.3,"y":-1.05},{"s":2,"c":0.05,"x":0.5,"y":-0.95},{"s":2,"c":0.05,"x":0.7,"y":-1.1},{"s":2,"c":0.05,"x":1,"y":-1},
{"s":3,"c":0.04,"x":0,"y":-1.7},{"s":3,"c":0.04,"x":0.5,"y":-1.5},{"s":3,"c":0.04,"x":1,"y":-1.7},
{"s":4,"c":0.04,"x":0,"y":-2},{"s":4,"c":0.04,"x":0.5,"y":-1.9},{"s":4,"c":0.04,"x":1,"y":-2.2},
{"s":5,"c":0.04,"x":0,"y":-3.1},{"s":5,"c":0.04,"x":0.5,"y":-2.9},{"s":5,"c":0.04,"x":1,"y":-3},
{"s":6,"c":0.04,"x":0,"y":-3.5},{"s":6,"c":0.04,"x":0.5,"y":-3.55},{"s":6,"c":0.04,"x":1,"y":-3.4},
{"s":7,"c":0.04,"x":0,"y":-3.9},{"s":7,"c":0.04,"x":0.5,"y":-3.85},{"s":7,"c":0.04,"x":1,"y":-3.8},
{"s":8,"c":0.04,"x":0,"y":-5.9},{"s":8,"c":0.04,"x":0.5,"y":-5.7},{"s":8,"c":0.04,"x":1,"y":-5.8},
{"s":9,"c":0.04,"x":0,"y":-6.4},{"s":9,"c":0.04,"x":0.5,"y":-6.3},{"s":9,"c":0.04,"x":1,"y":-6.5},
{"s":10,"c":0.04,"x":0,"y":-7.1},{"s":10,"c":0.04,"x":0.5,"y":-7},{"s":10,"c":0.04,"x":1,"y":-7.2},
{"s":11,"c":0.04,"x":0,"y":-8.35},{"s":11,"c":0.04,"x":0.3,"y":-8.4},{"s":11,"c":0.04,"x":0.7,"y":-8.2},{"s":11,"c":0.04,"x":1,"y":-8.4},
{"s":12,"c":0.04,"x":0,"y":-8.6},{"s":12,"c":0.04,"x":0.5,"y":-9.2},{"s":12,"c":0.04,"x":1,"y":-9.3},
{"s":13,"c":0.04,"x":0,"y":1.16},{"s":13,"c":0.04,"x":0.062,"y":1.59},{"s":13,"c":0.04,"x":0.13,"y":2.6},
{"s":14,"c":0.04,"x":1,"y":1.23},{"s":14,"c":0.04,"x":0.897,"y":1.74},
{"s":15,"c":0.04,"x":0.486,"y":1.81},{"s":15,"c":0.04,"x":0.6,"y":2.4},{"s":15,"c":0.04,"x":0.8,"y":2.3},{"s":15,"c":0.04,"x":0.9,"y":2.4},
{"s":16,"c":0.04,"x":0.1,"y":0.2},{"s":16,"c":0.04,"x":0.32,"y":0.45},{"s":16,"c":0.04,"x":0.6,"y":0.2},{"s":16,"c":0.04,"x":0.75,"y":-0.4},
{"s":17,"c":0.13,"x":0.418,"y":2.32},{"s":17,"c":0.15,"x":0.5,"y":2.24},{"s":17,"c":0.12,"x":0.555,"y":2.39},
{"s":18,"c":0.18,"x":0.486,"y":2.97},{"s":18,"c":0.2,"x":0.541,"y":3.19},{"s":18,"c":0.14,"x":0.596,"y":3.36},
{"s":19,"c":0.28,"x":0,"y":3.33},{"s":19,"c":0.28,"x":0.144,"y":3.33},{"s":19,"c":0.12,"x":0.199,"y":3.4},
{"s":20,"c":0.13,"x":0,"y":3.65},{"s":20,"c":0.25,"x":0.089,"y":3.62},{"s":20,"c":0.42,"x":0.171,"y":3.69},{"s":20,"c":0.3,"x":0.24,"y":3.84},{"s":20,"c":0.5,"x":0.295,"y":3.98},{"s":20,"c":0.45,"x":0.319,"y":4.2},
{"s":21,"c":0.28,"x":0,"y":0.48},{"s":21,"c":0.28,"x":0.048,"y":0.29},{"s":21,"c":0.2,"x":0.096,"y":-0.07},{"s":21,"c":0.14,"x":0.164,"y":-0.41},
{"s":22,"c":0.28,"x":1,"y":0.48},{"s":22,"c":0.25,"x":0.938,"y":0.22},{"s":22,"c":0.18,"x":0.897,"y":-0.04},
{"s":23,"c":0.12,"x":0.103,"y":-1.16},{"s":23,"c":0.14,"x":0.171,"y":-1.48},
{"s":24,"c":0.12,"x":0.171,"y":-2.17},{"s":24,"c":0.14,"x":0.253,"y":-2.17},{"s":24,"c":0.25,"x":0.319,"y":-2.17},{"s":24,"c":0.16,"x":0.404,"y":-2.32},
{"s":25,"c":0.25,"x":0,"y":-2.5},{"s":25,"c":0.25,"x":0.144,"y":-2.5},{"s":25,"c":0.2,"x":0.199,"y":-2.46},
{"s":26,"c":0.13,"x":0,"y":-2.82},{"s":26,"c":0.13,"x":0.089,"y":-2.6},
{"s":27,"c":0.13,"x":0.16,"y":-2.1},{"s":27,"c":0.13,"x":0.2,"y":-2.3},{"s":27,"c":0.14,"x":0.319,"y":-2.39},{"s":27,"c":0.14,"x":0.39,"y":-2.68},
{"s":28,"c":0.23,"x":1,"y":-2.5},{"s":28,"c":0.16,"x":0.925,"y":-2.82},{"s":28,"c":0.2,"x":0.87,"y":-3.33},{"s":28,"c":0.15,"x":0.815,"y":-3.69},{"s":28,"c":0.22,"x":0.719,"y":-3.84},{"s":28,"c":0.25,"x":0.61,"y":-4.05},{"s":28,"c":0.15,"x":0.5,"y":-4.34},{"s":28,"c":0.3,"x":0.432,"y":-4.63},{"s":28,"c":0.5,"x":0.319,"y":-4.46},
{"s":29,"c":0.3,"x":0,"y":-4.17},{"s":29,"c":0.2,"x":0.13,"y":-4.34},{"s":29,"c":0.25,"x":0.24,"y":-4.75},{"s":29,"c":0.3,"x":0.319,"y":-4.81},{"s":29,"c":0.32,"x":0.445,"y":-4.7},{"s":29,"c":0.2,"x":0.541,"y":-4.56},{"s":29,"c":0.3,"x":0.61,"y":-4.85},{"s":29,"c":0.32,"x":0.705,"y":-5.04},{"s":29,"c":0.28,"x":0.801,"y":-4.63},{"s":29,"c":0.2,"x":0.911,"y":-4.27},{"s":29,"c":0.3,"x":1,"y":-4.16},
{"s":30,"c":0.13,"x":0.79,"y":-4.2},{"s":30,"c":0.14,"x":0.9,"y":-4.1},{"s":30,"c":0.13,"x":1,"y":-4.2},
{"s":31,"c":0.12,"x":0.45,"y":-4.3},{"s":31,"c":0.17,"x":0.55,"y":-4.45},{"s":31,"c":0.14,"x":0.7,"y":-4.45},
{"s":32,"c":0.13,"x":0,"y":-4.53},{"s":32,"c":0.13,"x":0.1,"y":-4.4},
{"s":33,"c":0.13,"x":0,"y":-5.07},{"s":33,"c":0.14,"x":0.089,"y":-4.92},
{"s":34,"c":0.25,"x":0.746,"y":-6},{"s":34,"c":0.14,"x":0.829,"y":-5.79},
{"s":35,"c":0.16,"x":0.76,"y":-5.57},{"s":35,"c":0.26,"x":0.87,"y":-5.14},{"s":35,"c":0.26,"x":1,"y":-5.11},
{"s":36,"c":0.15,"x":0.212,"y":-8.61},{"s":36,"c":0.3,"x":0.319,"y":-8.77},{"s":36,"c":0.3,"x":0.445,"y":-8.71},{"s":36,"c":0.45,"x":0.582,"y":-8.57},{"s":36,"c":0.28,"x":0.692,"y":-8.43},{"s":36,"c":0.14,"x":0.788,"y":-8.47},{"s":36,"c":0.14,"x":0.911,"y":-8.83},{"s":36,"c":0.28,"x":1,"y":-8.88},
{"s":37,"c":0.3,"x":0.336,"y":-8.14},{"s":37,"c":0.3,"x":0.445,"y":-8.18},{"s":37,"c":0.18,"x":0.514,"y":-8.4},{"s":37,"c":0.14,"x":0.61,"y":-8.98},
{"s":38,"c":0.28,"x":0,"y":-8.08},{"s":38,"c":0.25,"x":0.089,"y":-7.85},{"s":38,"c":0.15,"x":0.144,"y":-7.85},
{"s":39,"c":0.14,"x":0.28,"y":-7.95},{"s":39,"c":0.25,"x":0.319,"y":-7.96},{"s":39,"c":0.2,"x":0.4,"y":-7.95},
{"s":40,"c":0.3,"x":0,"y":-8.86},{"s":40,"c":0.28,"x":0.103,"y":-9},{"s":40,"c":0.55,"x":0.185,"y":-9.27},{"s":40,"c":0.3,"x":0.24,"y":-9.7},{"s":40,"c":0.25,"x":0.274,"y":-9.96},
{"s":41,"c":0.14,"x":0.14,"y":-7.55},{"s":41,"c":0.15,"x":0.22,"y":-7.65},{"s":41,"c":0.28,"x":0.253,"y":-8.25},{"s":41,"c":0.28,"x":0.274,"y":-8.7}],
"ed":[
{"s":50,"c":0.15,"x":0.096,"y":4.92},{"s":50,"c":0.17,"x":0.13,"y":4.27},
{"s":51,"c":0.16,"x":0.15,"y":3.3},{"s":51,"c":0.28,"x":0.171,"y":2.75},{"s":51,"c":0.3,"x":0.226,"y":1.95},{"s":51,"c":0.35,"x":0.267,"y":1.45},{"s":51,"c":0.33,"x":0.319,"y":1.2},{"s":51,"c":0.3,"x":0.39,"y":1.38},{"s":51,"c":0.28,"x":0.486,"y":1.81},
{"s":52,"c":0.15,"x":0.568,"y":3.84},{"s":52,"c":0.22,"x":0.637,"y":4.42},{"s":52,"c":0.2,"x":0.692,"y":4.92},
{"s":53,"c":0.45,"x":0.319,"y":4.2},{"s":53,"c":0.3,"x":0.363,"y":4.42},{"s":53,"c":0.28,"x":0.411,"y":4.81},
{"s":54,"c":0.25,"x":0.911,"y":4.63},{"s":54,"c":0.22,"x":0.952,"y":3.84},{"s":54,"c":0.28,"x":1,"y":3.33},
{"s":55,"c":0.15,"x":0.911,"y":-0.58},{"s":55,"c":0.16,"x":0.829,"y":-1.3},{"s":55,"c":0.14,"x":0.76,"y":-2.46},{"s":55,"c":0.14,"x":0.692,"y":-3.26},
{"s":56,"c":0.2,"x":0.199,"y":-2.46},{"s":56,"c":0.18,"x":0.24,"y":-2.97},{"s":56,"c":0.22,"x":0.281,"y":-3.76},{"s":56,"c":0.14,"x":0.301,"y":-4.05},
{"s":57,"c":0.14,"x":0.39,"y":-2.68},{"s":57,"c":0.13,"x":0.459,"y":-3.47},{"s":57,"c":0.13,"x":0.514,"y":-3.91},
{"s":58,"c":0.13,"x":0.082,"y":-5.36},{"s":58,"c":0.14,"x":0.144,"y":-6.23},{"s":58,"c":0.15,"x":0.199,"y":-6.8},{"s":58,"c":0.14,"x":0.22,"y":-7.65},
{"s":59,"c":0.14,"x":0.116,"y":-7.53},{"s":59,"c":0.26,"x":0.144,"y":-7.24},{"s":59,"c":0.25,"x":0.199,"y":-6.8},{"s":59,"c":0.28,"x":0.267,"y":-5.94},{"s":59,"c":0.32,"x":0.319,"y":-5.4},{"s":59,"c":0.4,"x":0.377,"y":-5.72},{"s":59,"c":0.22,"x":0.432,"y":-6.59},{"s":59,"c":0.16,"x":0.486,"y":-7.09},{"s":59,"c":0.32,"x":0.548,"y":-7.38},{"s":59,"c":0.26,"x":0.623,"y":-7.17},{"s":59,"c":0.24,"x":0.692,"y":-6.66},{"s":59,"c":0.2,"x":0.746,"y":-6.2},
{"s":60,"c":0.14,"x":0.61,"y":-8.98},{"s":60,"c":0.2,"x":0.692,"y":-9.63},{"s":60,"c":0.25,"x":0.788,"y":-9.96},{"s":60,"c":0.2,"x":0.849,"y":-9.96},{"s":60,"c":0.22,"x":0.897,"y":-9.27},{"s":60,"c":0.13,"x":0.952,"y":-8.69},{"s":60,"c":0.13,"x":1,"y":-8.11}],
"bz":[
{"s":"h1","o":1,"x":-0.603,"y":0},{"s":"h1","o":2,"x":-0.384,"y":0.457},{"s":"h1","o":3,"x":0.411,"y":0.457},{"s":"h1","o":4,"x":0.616,"y":0},{"s":"h1","o":5,"x":0.411,"y":-0.464},{"s":"h1","o":6,"x":-0.384,"y":-0.464},{"s":"h1","o":7,"x":-0.603,"y":0},
{"s":"h2","o":1,"x":0.411,"y":0.457},{"s":"h2","o":2,"x":0.623,"y":0.927},{"s":"h2","o":3,"x":1.424,"y":0.927},{"s":"h2","o":4,"x":1.636,"y":0.457},{"s":"h2","o":5,"x":1.424,"y":0},{"s":"h2","o":6,"x":0.616,"y":0}],
"path":[
{"s":"GX","o":1,"x":0,"y":0},{"s":"GX","o":2,"x":0,"y":0.457},
{"s":"GXp","o":1,"x":0,"y":0},{"s":"GXp","o":2,"x":1,"y":0}],
"arrows":[
{"s":"a1","o":1,"x":0,"y":0},{"s":"a1","o":2,"x":1,"y":0.457},
{"s":"a2","o":1,"x":0,"y":0},{"s":"a2","o":2,"x":1,"y":-0.47},
{"s":"h1","o":1,"x":0.914,"y":0.465},{"s":"h1","o":2,"x":1,"y":0.457},{"s":"h1","o":3,"x":0.947,"y":0.384},
{"s":"h2","o":1,"x":0.947,"y":-0.39},{"s":"h2","o":2,"x":1,"y":-0.47},{"s":"h2","o":3,"x":0.914,"y":-0.477}],
"names":[{"t":"X","x":-0.06,"y":0.54},{"t":"X’","x":0.98,"y":-0.13},{"t":"Γ","x":-0.03,"y":-0.125}],
"gamma":[{"g":0.317}],
"fermi":[{"e":0}]
},
"vconcat":[
{"bounds":"flush","spacing":99,"resolve":{"scale":{"color":"independent"},"legend":{"color":"independent"}},"hconcat":[
{"title":{"text":"(a)","dx":-63},"width":243,"height":346,"layer":[
{"data":{"name":"a"},"transform":[{"window":[{"op":"lead","field":"x","as":"x2"},{"op":"lead","field":"y","as":"y2"}],"groupby":["s"],"sort":[{"field":"x"}]},{"filter":"isValid(datum.x2)"}],"mark":{"type":"rule","strokeWidth":2,"strokeCap":"round","clip":true},"encoding":{"x":{"field":"x","type":"quantitative","scale":{"domain":[0,1],"nice":false},"axis":{"values":[0,0.317,1],"encode":{"labels":{"update":{"font":{"signal":"datum.value>0.1&&datum.value<0.9?'Liberation Serif':'DejaVu Sans'"}}}}}},"y":{"field":"y","type":"quantitative","scale":{"domain":[-10,5],"nice":false}},"x2":{"field":"x2"},"y2":{"field":"y2"},"color":{"field":"c","type":"quantitative","scale":{"domain":[0,0.09,0.18,0.324,0.432,0.54,0.81,0.918,1.116,1.26,1.404,1.53,1.656,1.8],"range":["#00006e","#084f18","#0000ff","#00ffff","#00ff80","#00ff00","#adff2f","#ffff00","#ffa000","#ff0000","#ff00ff","#a040ff","#ffb0e8","#ffffff"]},"legend":{"values":[0,0.9,1.8],"encode":{"labels":{"update":{"align":{"value":"center"}}}}}}}},
{"data":{"name":"ad"},"transform":[{"window":[{"op":"lead","field":"x","as":"x2"},{"op":"lead","field":"y","as":"y2"}],"groupby":["s"],"sort":[{"field":"x"}]},{"filter":"isValid(datum.x2)"}],"mark":{"type":"rule","strokeWidth":2.8,"strokeDash":[2.5,5],"clip":true},"encoding":{"x":{"field":"x","type":"quantitative"},"y":{"field":"y","type":"quantitative"},"x2":{"field":"x2"},"y2":{"field":"y2"},"color":{"field":"c","type":"quantitative"}}},
{"data":{"name":"gamma"},"mark":{"type":"rule","color":"#e8e8f8","strokeWidth":1.5},"encoding":{"x":{"field":"g","type":"quantitative"}}},
{"data":{"name":"fermi"},"mark":{"type":"rule","color":"#ffffff","strokeWidth":1.2,"strokeDash":[1.5,2]},"encoding":{"y":{"field":"e","type":"quantitative"}}},
{"data":{"values":[{"t":"Eg=0.525eV","x":0.6,"y":1.0}]},"mark":{"type":"text","font":"Liberation Sans","fontSize":16.5,"color":"#e8e8ff","align":"left"},"encoding":{"x":{"field":"x","type":"quantitative"},"y":{"field":"y","type":"quantitative"},"text":{"field":"t"}}}]},
{"bounds":"flush","spacing":78,"resolve":{"scale":{"color":"independent"},"legend":{"color":"independent"}},"hconcat":[
{"title":{"text":"(b)","dx":-58},"width":243,"height":346,"layer":[
{"data":{"name":"b"},"transform":[{"window":[{"op":"lead","field":"x","as":"x2"},{"op":"lead","field":"y","as":"y2"}],"groupby":["s"],"sort":[{"field":"x"}]},{"filter":"isValid(datum.x2)"}],"mark":{"type":"rule","strokeCap":"round","clip":true},"encoding":{"strokeWidth":{"condition":{"test":"datum.c<0.08","value":1.2},"value":2},"x":{"field":"x","type":"quantitative","scale":{"domain":[0,1],"nice":false},"axis":{"values":[0,0.317,1],"encode":{"labels":{"update":{"font":{"signal":"datum.value>0.1&&datum.value<0.9?'Liberation Serif':'DejaVu Sans'"}}}}}},"y":{"field":"y","type":"quantitative","scale":{"domain":[-10,5],"nice":false}},"x2":{"field":"x2"},"y2":{"field":"y2"},"color":{"field":"c","type":"quantitative","scale":{"domain":[0,0.05,0.1,0.18,0.24,0.3,0.45,0.51,0.62,0.7,0.78,0.85,0.92,1],"range":["#00006e","#084f18","#0000ff","#00ffff","#00ff80","#00ff00","#adff2f","#ffff00","#ffa000","#ff0000","#ff00ff","#a040ff","#ffb0e8","#ffffff"]},"legend":{"values":[0,0.5,1],"encode":{"labels":{"update":{"align":{"value":"center"}}}}}}}},
{"data":{"name":"bd"},"transform":[{"window":[{"op":"lead","field":"x","as":"x2"},{"op":"lead","field":"y","as":"y2"}],"groupby":["s"],"sort":[{"field":"x"}]},{"filter":"isValid(datum.x2)"}],"mark":{"type":"rule","strokeWidth":2.8,"strokeDash":[2.5,5],"clip":true},"encoding":{"x":{"field":"x","type":"quantitative"},"y":{"field":"y","type":"quantitative"},"x2":{"field":"x2"},"y2":{"field":"y2"},"color":{"field":"c","type":"quantitative"}}},
{"data":{"name":"gamma"},"mark":{"type":"rule","color":"#e8e8f8","strokeWidth":1.5},"encoding":{"x":{"field":"g","type":"quantitative"}}},
{"data":{"name":"fermi"},"mark":{"type":"rule","color":"#ffffff","strokeWidth":1.2,"strokeDash":[1.5,2]},"encoding":{"y":{"field":"e","type":"quantitative"}}},
{"data":{"values":[{"t":"Eg=0.727eV","x":0.56,"y":1.0}]},"mark":{"type":"text","font":"Liberation Sans","fontSize":16.5,"color":"#e8e8ff","align":"left"},"encoding":{"x":{"field":"x","type":"quantitative"},"y":{"field":"y","type":"quantitative"},"text":{"field":"t"}}}]},
{"title":{"text":"(c)","dx":-59},"width":243,"height":346,"layer":[
{"data":{"name":"c"},"transform":[{"window":[{"op":"lead","field":"x","as":"x2"},{"op":"lead","field":"y","as":"y2"}],"groupby":["s"],"sort":[{"field":"x"}]},{"filter":"isValid(datum.x2)"}],"mark":{"type":"rule","strokeCap":"round","clip":true},"encoding":{"strokeWidth":{"condition":{"test":"datum.c<0.08","value":1.2},"value":2},"x":{"field":"x","type":"quantitative","scale":{"domain":[0,1],"nice":false},"axis":{"values":[0,0.317,1],"encode":{"labels":{"update":{"font":{"signal":"datum.value>0.1&&datum.value<0.9?'Liberation Serif':'DejaVu Sans'"}}}}}},"y":{"field":"y","type":"quantitative","scale":{"domain":[-10,5],"nice":false}},"x2":{"field":"x2"},"y2":{"field":"y2"},"color":{"field":"c","type":"quantitative","scale":{"domain":[0,0.055,0.11,0.198,0.264,0.33,0.495,0.561,0.682,0.77,0.858,0.935,1.012,1.1],"range":["#00006e","#084f18","#0000ff","#00ffff","#00ff80","#00ff00","#adff2f","#ffff00","#ffa000","#ff0000","#ff00ff","#a040ff","#ffb0e8","#ffffff"]},"legend":{"values":[0,0.55,1.1],"labelExpr":"datum.value==0.55?'0.5':datum.label","encode":{"labels":{"update":{"align":{"value":"center"}}}}}}}},
{"data":{"name":"cd"},"transform":[{"window":[{"op":"lead","field":"x","as":"x2"},{"op":"lead","field":"y","as":"y2"}],"groupby":["s"],"sort":[{"field":"x"}]},{"filter":"isValid(datum.x2)"}],"mark":{"type":"rule","strokeWidth":2.8,"strokeDash":[2.5,5],"clip":true},"encoding":{"x":{"field":"x","type":"quantitative"},"y":{"field":"y","type":"quantitative"},"x2":{"field":"x2"},"y2":{"field":"y2"},"color":{"field":"c","type":"quantitative"}}},
{"data":{"name":"gamma"},"mark":{"type":"rule","color":"#e8e8f8","strokeWidth":1.5},"encoding":{"x":{"field":"g","type":"quantitative"}}},
{"data":{"name":"fermi"},"mark":{"type":"rule","color":"#ffffff","strokeWidth":1.2,"strokeDash":[1.5,2]},"encoding":{"y":{"field":"e","type":"quantitative"}}},
{"data":{"values":[{"t":"Eg=0.633eV","x":0.597,"y":1.0}]},"mark":{"type":"text","font":"Liberation Sans","fontSize":16.5,"color":"#e8e8ff","align":"left"},"encoding":{"x":{"field":"x","type":"quantitative"},"y":{"field":"y","type":"quantitative"},"text":{"field":"t"}}}]}
]}]},
{"bounds":"flush","spacing":99,"resolve":{"scale":{"color":"independent"},"legend":{"color":"independent"}},"hconcat":[
{"width":243,"height":345,"view":{"fill":null,"stroke":null},"layer":[
{"data":{"name":"bz"},"mark":{"type":"line","color":"#8a8a8a","strokeWidth":2.2},"encoding":{"x":{"field":"x","type":"quantitative","scale":{"domain":[-0.404,1.205],"nice":false,"zero":false},"axis":null},"y":{"field":"y","type":"quantitative","scale":{"domain":[-0.921,1.364],"nice":false,"zero":false},"axis":null},"detail":{"field":"s"},"order":{"field":"o"}}},
{"data":{"name":"path"},"mark":{"type":"line","color":"#0000b4","strokeWidth":4},"encoding":{"x":{"field":"x","type":"quantitative"},"y":{"field":"y","type":"quantitative"},"detail":{"field":"s"},"order":{"field":"o"}}},
{"data":{"name":"arrows"},"mark":{"type":"line","color":"#f01010","strokeWidth":2.2},"encoding":{"x":{"field":"x","type":"quantitative"},"y":{"field":"y","type":"quantitative"},"detail":{"field":"s"},"order":{"field":"o"}}},
{"data":{"name":"names"},"mark":{"type":"text","font":"Liberation Sans","fontSize":21,"color":"#222222"},"encoding":{"x":{"field":"x","type":"quantitative"},"y":{"field":"y","type":"quantitative"},"text":{"field":"t"}}}]},
{"bounds":"flush","spacing":78,"resolve":{"scale":{"color":"independent"},"legend":{"color":"independent"}},"hconcat":[
{"title":{"text":"(d)","dx":-58},"width":243,"height":345,"layer":[
{"data":{"name":"d"},"transform":[{"window":[{"op":"lead","field":"x","as":"x2"},{"op":"lead","field":"y","as":"y2"}],"groupby":["s"],"sort":[{"field":"x"}]},{"filter":"isValid(datum.x2)"}],"mark":{"type":"rule","strokeCap":"round","clip":true},"encoding":{"strokeWidth":{"condition":{"test":"datum.c<0.08","value":1.2},"value":2},"x":{"field":"x","type":"quantitative","scale":{"domain":[0,1],"nice":false},"axis":{"values":[0,0.317,1],"encode":{"labels":{"update":{"font":{"signal":"datum.value>0.1&&datum.value<0.9?'Liberation Serif':'DejaVu Sans'"}}}}}},"y":{"field":"y","type":"quantitative","scale":{"domain":[-10,5],"nice":false}},"x2":{"field":"x2"},"y2":{"field":"y2"},"color":{"field":"c","type":"quantitative","scale":{"domain":[0,0.05,0.1,0.18,0.24,0.3,0.45,0.51,0.62,0.7,0.78,0.85,0.92,1],"range":["#00006e","#084f18","#0000ff","#00ffff","#00ff80","#00ff00","#adff2f","#ffff00","#ffa000","#ff0000","#ff00ff","#a040ff","#ffb0e8","#ffffff"]},"legend":{"values":[0,0.5,1],"encode":{"labels":{"update":{"align":{"value":"center"}}}}}}}},
{"data":{"name":"dd"},"transform":[{"window":[{"op":"lead","field":"x","as":"x2"},{"op":"lead","field":"y","as":"y2"}],"groupby":["s"],"sort":[{"field":"x"}]},{"filter":"isValid(datum.x2)"}],"mark":{"type":"rule","strokeWidth":2.8,"strokeDash":[2.5,5],"clip":true},"encoding":{"x":{"field":"x","type":"quantitative"},"y":{"field":"y","type":"quantitative"},"x2":{"field":"x2"},"y2":{"field":"y2"},"color":{"field":"c","type":"quantitative"}}},
{"data":{"name":"gamma"},"mark":{"type":"rule","color":"#e8e8f8","strokeWidth":1.5},"encoding":{"x":{"field":"g","type":"quantitative"}}},
{"data":{"name":"fermi"},"mark":{"type":"rule","color":"#ffffff","strokeWidth":1.2,"strokeDash":[1.5,2]},"encoding":{"y":{"field":"e","type":"quantitative"}}},
{"data":{"values":[{"t":"Eg=0.261eV","x":0.576,"y":0.95}]},"mark":{"type":"text","font":"Liberation Sans","fontSize":16.5,"color":"#e8e8ff","align":"left"},"encoding":{"x":{"field":"x","type":"quantitative"},"y":{"field":"y","type":"quantitative"},"text":{"field":"t"}}}]},
{"title":{"text":"(e)","dx":-59},"width":243,"height":345,"layer":[
{"data":{"name":"e"},"transform":[{"window":[{"op":"lead","field":"x","as":"x2"},{"op":"lead","field":"y","as":"y2"}],"groupby":["s"],"sort":[{"field":"x"}]},{"filter":"isValid(datum.x2)"}],"mark":{"type":"rule","strokeCap":"round","clip":true},"encoding":{"strokeWidth":{"condition":{"test":"datum.c<0.06","value":1.2},"value":2},"x":{"field":"x","type":"quantitative","scale":{"domain":[0,1],"nice":false},"axis":{"values":[0,0.317,1],"encode":{"labels":{"update":{"font":{"signal":"datum.value>0.1&&datum.value<0.9?'Liberation Serif':'DejaVu Sans'"}}}}}},"y":{"field":"y","type":"quantitative","scale":{"domain":[-10,5],"nice":false}},"x2":{"field":"x2"},"y2":{"field":"y2"},"color":{"field":"c","type":"quantitative","scale":{"domain":[0,0.04,0.08,0.144,0.192,0.24,0.36,0.408,0.496,0.56,0.624,0.68,0.736,0.8],"range":["#00006e","#084f18","#0000ff","#00ffff","#00ff80","#00ff00","#adff2f","#ffff00","#ffa000","#ff0000","#ff00ff","#a040ff","#ffb0e8","#ffffff"]},"legend":{"values":[0,0.4,0.8],"encode":{"labels":{"update":{"align":{"value":"center"}}}}}}}},
{"data":{"name":"ed"},"transform":[{"window":[{"op":"lead","field":"x","as":"x2"},{"op":"lead","field":"y","as":"y2"}],"groupby":["s"],"sort":[{"field":"x"}]},{"filter":"isValid(datum.x2)"}],"mark":{"type":"rule","strokeWidth":2.8,"strokeDash":[2.5,5],"clip":true},"encoding":{"x":{"field":"x","type":"quantitative"},"y":{"field":"y","type":"quantitative"},"x2":{"field":"x2"},"y2":{"field":"y2"},"color":{"field":"c","type":"quantitative"}}},
{"data":{"name":"gamma"},"mark":{"type":"rule","color":"#e8e8f8","strokeWidth":1.5},"encoding":{"x":{"field":"g","type":"quantitative"}}},
{"data":{"name":"fermi"},"mark":{"type":"rule","color":"#ffffff","strokeWidth":1.2,"strokeDash":[1.5,2]},"encoding":{"y":{"field":"e","type":"quantitative"}}},
{"data":{"values":[{"t":"Eg=0.000eV","x":0.58,"y":0.95}]},"mark":{"type":"text","font":"Liberation Sans","fontSize":16.5,"color":"#e8e8ff","align":"left"},"encoding":{"x":{"field":"x","type":"quantitative"},"y":{"field":"y","type":"quantitative"},"text":{"field":"t"}}}]}
]}]}
]}
